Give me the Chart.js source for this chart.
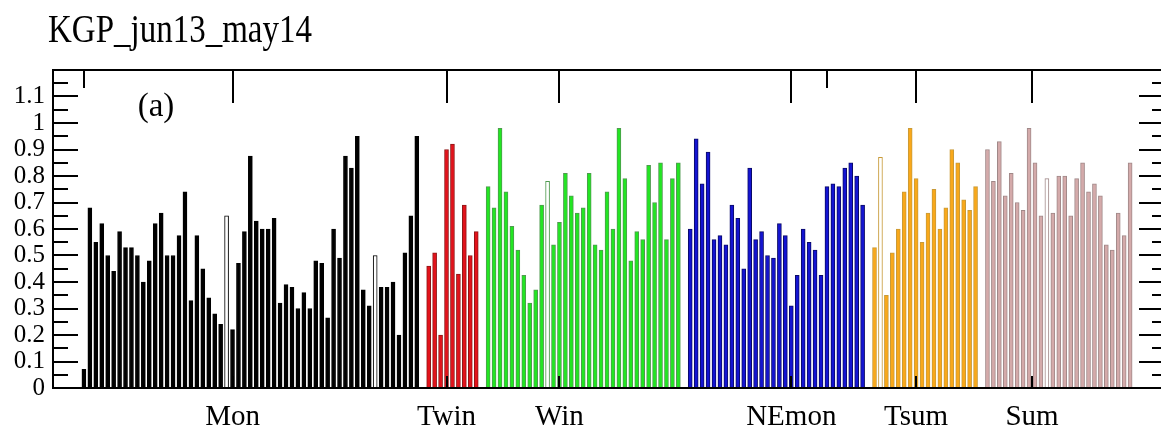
<!DOCTYPE html>
<html>
<head>
  <title>KGP_jun13_may14</title>
  <style>
    body { margin: 0; overflow: hidden; background: #fff; }
    #wrap { width: 1166px; height: 435px; }
  </style>
</head>
<body>
  <div id="wrap"><canvas id="season-bars"></canvas></div>

  <script src="https://cdn.jsdelivr.net/npm/chart.js"></script>
  <script>
    // values, one array per season
    const mon = [0.07, 0.68, 0.55, 0.62, 0.50, 0.44, 0.59, 0.53, 0.53, 0.50,
                 0.40, 0.48, 0.62, 0.66, 0.50, 0.50, 0.575, 0.74, 0.33, 0.575,
                 0.45, 0.34, 0.28, 0.24, 0.65, 0.22, 0.47, 0.59, 0.875, 0.63,
                 0.60, 0.60, 0.64, 0.32, 0.39, 0.38, 0.30, 0.36, 0.30, 0.48,
                 0.47, 0.265, 0.60, 0.49, 0.875, 0.83, 0.95, 0.37, 0.31, 0.50,
                 0.38, 0.38, 0.40, 0.20, 0.51, 0.65, 0.95];
    const twin = [0.46, 0.51, 0.20, 0.90, 0.92, 0.43, 0.69, 0.50, 0.59];
    const win = [0.76, 0.68, 0.98, 0.74, 0.61, 0.52, 0.425, 0.32, 0.37, 0.69,
                 0.78, 0.54, 0.625, 0.81, 0.725, 0.66, 0.68, 0.81, 0.54, 0.52,
                 0.74, 0.60, 0.98, 0.79, 0.48, 0.59, 0.56, 0.84, 0.70, 0.85,
                 0.56, 0.79, 0.85];
    const nemon = [0.60, 0.94, 0.77, 0.89, 0.56, 0.575, 0.54, 0.69, 0.64, 0.45,
                   0.83, 0.56, 0.59, 0.50, 0.49, 0.62, 0.575, 0.31, 0.425, 0.60,
                   0.55, 0.52, 0.425, 0.76, 0.77, 0.76, 0.83, 0.85, 0.80, 0.69];
    const tsum = [0.53, 0.87, 0.35, 0.51, 0.60, 0.74, 0.98, 0.79, 0.55, 0.66,
                  0.75, 0.60, 0.68, 0.90, 0.85, 0.71, 0.67, 0.76];
    const sum = [0.90, 0.78, 0.93, 0.725, 0.81, 0.70, 0.67, 0.98, 0.85, 0.65,
                 0.79, 0.66, 0.80, 0.80, 0.65, 0.79, 0.85, 0.74, 0.77, 0.725,
                 0.54, 0.52, 0.66, 0.575, 0.85];

    const seasonNames = ['Mon', 'Twin', 'Win', 'NEmon', 'Tsum', 'Sum'];
    const seasonMarks = [25, 61, 80, 119, 140, 159.5];   // where the names sit on the x axis
    const yLabels = ['0', '0.1', '0.2', '0.3', '0.4', '0.5', '0.6', '0.7', '0.8', '0.9', '1', '1.1'];

    // bars that are drawn as open boxes (index inside the season)
    const hollow = { mon: [24, 49], win: [10], tsum: [1], sum: [10] };

    const serif = "'Liberation Serif', 'DejaVu Serif', serif";

    // one dataset per season, an empty slot between seasons
    function season(label, values, fill, edge, hollowIdx) {
      return { label, values, fill, edge, hollowIdx: hollowIdx || [] };
    }
    const seasons = [
      season('Mon', mon, '#000000', '#000000', hollow.mon),
      season('Twin', twin, '#e3121b', '#8e1616'),
      season('Win', win, '#22e622', '#4f9a4f', hollow.win),
      season('NEmon', nemon, '#1414d2', '#0a0a66'),
      season('Tsum', tsum, '#f9a81a', '#c89a38', hollow.tsum),
      season('Sum', sum, '#d4aaaa', '#a08888', hollow.sum)
    ];

    let slot = 0;
    const datasets = seasons.map(s => {
      const start = slot;
      slot += s.values.length + 1;
      return {
        label: s.label,
        data: s.values.map((v, i) => ({ x: start + i, y: v })),
        backgroundColor: s.values.map((v, i) => s.hollowIdx.includes(i) ? '#ffffff' : s.fill),
        borderColor: s.edge,
        borderWidth: 1,
        barThickness: 4,
        grouped: false
      };
    });

    // frame, inward tick marks, title and panel letter
    const frameAndText = {
      id: 'frameAndText',
      afterDraw(chart) {
        const ctx = chart.ctx;
        const a = chart.chartArea;
        const x = chart.scales.x;
        const y = chart.scales.y;
        ctx.save();
        ctx.strokeStyle = '#000';
        ctx.lineWidth = 2;
        ctx.strokeRect(a.left, a.top, a.right - a.left, a.bottom - a.top);

        ctx.beginPath();
        for (let k = 1; k <= 23; k++) {
          const py = Math.round(y.getPixelForValue(k * 0.05));
          const major = k % 2 === 0;
          ctx.moveTo(a.left, py);
          ctx.lineTo(a.left + (major ? 25 : 15), py);
          ctx.moveTo(a.right, py);
          ctx.lineTo(a.right - (major ? 25 : 12), py);
        }
        seasonMarks.forEach(v => {
          const px = Math.round(x.getPixelForValue(v));
          ctx.moveTo(px, a.top);
          ctx.lineTo(px, a.top + 33);
          ctx.moveTo(px, a.bottom);
          ctx.lineTo(px, a.bottom - 12);
        });
        [0, 125].forEach(v => {
          const px = Math.round(x.getPixelForValue(v));
          ctx.moveTo(px, a.top);
          ctx.lineTo(px, a.top + 18);
        });
        ctx.stroke();

        ctx.fillStyle = '#000';
        ctx.textBaseline = 'alphabetic';
        ctx.textAlign = 'left';
        ctx.translate(48, 42);
        ctx.scale(1, 1.2);
        ctx.font = '33px ' + serif;
        ctx.fillText('KGP_jun13_may14', 0, 0);
        ctx.restore();

        ctx.save();
        ctx.fillStyle = '#000';
        ctx.font = '33px ' + serif;
        ctx.textAlign = 'center';
        ctx.fillText('(a)', 156, 116);
        ctx.restore();
      }
    };

    new Chart(document.getElementById('season-bars'), {
      type: 'bar',
      data: { datasets },
      options: {
        responsive: true,
        maintainAspectRatio: false,
        animation: false,
        layout: { padding: { top: 70, left: 0, right: 2, bottom: 0 } },
        plugins: {
          legend: { display: false },
          tooltip: { enabled: false }
        },
        scales: {
          x: {
            type: 'linear',
            offset: false,
            min: -5.2,
            max: 181.7,
            grid: { display: false, drawTicks: false },
            border: { display: false },
            afterBuildTicks: s => { s.ticks = seasonMarks.map(v => ({ value: v })); },
            afterFit: s => { s.height = 47; },
            ticks: {
              autoSkip: false,
              maxRotation: 0,
              padding: 12,
              color: '#000',
              font: { family: serif, size: 29 },
              callback: (v, i) => seasonNames[i]
            }
          },
          y: {
            min: 0,
            max: 1.2,
            grid: { display: false, drawTicks: false },
            border: { display: false },
            afterFit: s => { s.width = 53; },
            ticks: {
              stepSize: 0.1,
              autoSkip: false,
              padding: 8,
              color: '#000',
              font: { family: serif, size: 25 },
              callback: (v, i) => yLabels[i] || ''
            }
          }
        }
      },
      plugins: [frameAndText]
    });
  </script>
</body>
</html>
